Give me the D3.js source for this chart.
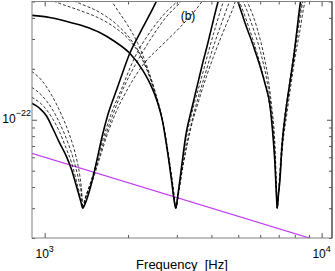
<!DOCTYPE html>
<html>
<head>
<meta charset="utf-8">
<script src="https://cdn.jsdelivr.net/npm/d3@7"></script>
<style>
body{margin:0;background:#fff}
svg text{font-family:"Liberation Sans",Arial,sans-serif;fill:#000}
</style>
</head>
<body>
<svg id="chart" width="335" height="271"></svg>
<script>
// solid curves, one per resonance [Hz, strain]
var solidA=[[898,1.251e-22],[959,1.169e-22],[1017,1.049e-22],[1069,8.91e-23],[1133,7.27e-23],[1201,6.01e-23],[1252,5.04e-23],[1305,4.00e-23],[1349,3.31e-23],[1372,3.0e-23],[1407,3.26e-23],[1454,3.84e-23],[1504,4.77e-23],[1541,5.69e-23],[1607,7.78e-23],[1689,1.063e-22],[1805,1.453e-22],[1914,1.907e-22],[2029,2.47e-22],[2205,3.24e-22],[2396,4.19e-22],[2604,5.50e-22]]
var solidB=[[898,4.14e-22],[1042,4.02e-22],[1201,3.81e-22],[1395,3.56e-22],[1580,3.28e-22],[1791,2.90e-22],[2029,2.47e-22],[2261,1.96e-22],[2436,1.555e-22],[2561,1.251e-22],[2670,9.66e-23],[2737,7.57e-23],[2806,5.77e-23],[2877,4.28e-23],[2926,3.44e-23],[2975,3.0e-23],[3024,3.54e-23],[3127,5.39e-23],[3233,8.10e-23],[3399,1.169e-22],[3572,1.641e-22],[3724,2.18e-22],[3882,2.83e-22],[4047,3.76e-22],[4220,4.93e-22],[4326,5.65e-22]]
var solidC=[[4862,5.65e-22],[4984,5.00e-22],[5283,3.76e-22],[5741,2.57e-22],[6239,1.641e-22],[6505,1.218e-22],[6669,8.10e-23],[6781,5.54e-23],[6866,3.59e-23],[6910,3.0e-23],[6982,3.59e-23],[7070,4.39e-23],[7188,6.88e-23],[7430,1.138e-22],[7681,1.664e-22],[7942,2.40e-22],[8142,3.37e-22],[8350,4.74e-22],[8490,5.65e-22]]

// dashed variants
var dashA1=[[898,1.932e-22],[975,1.711e-22],[1060,1.395e-22],[1152,1.063e-22],[1231,8.10e-23],[1294,6.17e-23],[1338,4.71e-23],[1361,3.73e-23],[1372,3.0e-23],[1395,3.35e-23],[1454,4.11e-23],[1529,5.39e-23],[1620,7.57e-23],[1731,1.063e-22],[1898,1.534e-22],[2115,2.34e-22],[2396,3.28e-22],[2715,4.25e-22],[3024,5.07e-22],[3127,5.43e-22]]
var dashA2=[[898,1.555e-22],[975,1.395e-22],[1060,1.169e-22],[1142,9.28e-23],[1211,7.37e-23],[1273,5.77e-23],[1327,4.40e-23],[1361,3.49e-23],[1372,3.0e-23],[1395,3.35e-23],[1466,4.22e-23],[1554,5.61e-23],[1648,7.78e-23],[1776,1.107e-22],[1946,1.598e-22],[2168,2.24e-22],[2436,3.07e-22],[2737,4.02e-22],[3127,5.07e-22],[3233,5.43e-22]]
var dashA3=[[898,1.358e-22],[975,1.234e-22],[1060,1.035e-22],[1133,8.44e-23],[1191,6.88e-23],[1252,5.54e-23],[1305,4.28e-23],[1349,3.44e-23],[1372,3.0e-23],[1407,3.44e-23],[1491,4.40e-23],[1580,5.93e-23],[1689,8.33e-23],[1836,1.169e-22],[2029,1.598e-22],[2299,2.18e-22],[2604,2.68e-22],[3075,3.51e-22],[3633,4.80e-22],[3787,5.28e-22]]
var dashB1=[[959,5.43e-22],[1133,4.87e-22],[1338,4.43e-22],[1580,3.97e-22],[1791,3.51e-22],[2029,2.94e-22],[2241,2.31e-22],[2416,1.711e-22],[2561,1.268e-22],[2670,9.66e-23],[2737,7.57e-23],[2806,5.77e-23],[2877,4.28e-23],[2926,3.44e-23],[2975,3.0e-23],[3024,3.54e-23],[3127,5.32e-23],[3260,8.10e-23],[3456,1.218e-22],[3663,1.711e-22],[3915,2.57e-22],[4185,3.76e-22],[4436,5.07e-22],[4510,5.43e-22]]
var dashB2=[[1133,5.43e-22],[1338,4.87e-22],[1580,4.31e-22],[1836,3.61e-22],[2080,2.87e-22],[2299,2.15e-22],[2457,1.598e-22],[2582,1.201e-22],[2692,9.03e-23],[2760,7.07e-23],[2830,5.39e-23],[2901,4.11e-23],[2975,3.0e-23],[3050,3.73e-23],[3179,5.77e-23],[3342,8.67e-23],[3543,1.268e-22],[3787,1.831e-22],[4047,2.64e-22],[4363,3.76e-22],[4663,5.07e-22],[4741,5.43e-22]]
var dashB3=[[1689,5.43e-22],[1836,4.43e-22],[1995,3.61e-22],[2168,2.83e-22],[2356,2.01e-22],[2498,1.493e-22],[2626,1.107e-22],[2715,8.44e-23],[2783,6.61e-23],[2853,5.04e-23],[2926,3.73e-23],[2975,3.0e-23],[3050,3.84e-23],[3206,6.09e-23],[3370,8.91e-23],[3603,1.303e-22],[3851,1.831e-22],[4150,2.57e-22],[4510,3.61e-22],[4862,4.93e-22],[4943,5.43e-22]]
var dashC1=[[4902,5.43e-22],[5109,4.74e-22],[5462,3.51e-22],[5837,2.50e-22],[6187,1.758e-22],[6450,1.303e-22],[6612,9.66e-23],[6724,7.07e-23],[6808,5.04e-23],[6866,3.58e-23],[6910,3.0e-23],[6982,3.58e-23],[7070,4.71e-23],[7188,6.79e-23],[7370,9.93e-23],[7619,1.453e-22],[7876,2.10e-22],[8142,3.03e-22],[8418,4.31e-22],[8630,5.43e-22]]
var dashC2=[[5067,5.43e-22],[5283,4.74e-22],[5646,3.51e-22],[6034,2.47e-22],[6343,1.711e-22],[6558,1.218e-22],[6696,8.67e-23],[6781,6.43e-23],[6837,4.52e-23],[6894,3.44e-23],[6910,3.0e-23],[6994,3.68e-23],[7098,4.90e-23],[7247,7.27e-23],[7494,1.092e-22],[7745,1.598e-22],[8008,2.31e-22],[8350,3.37e-22],[8630,4.67e-22],[8849,5.43e-22]]
var dashC3=[[5239,5.43e-22],[5462,4.74e-22],[5837,3.51e-22],[6187,2.40e-22],[6450,1.641e-22],[6612,1.169e-22],[6752,8.10e-23],[6820,5.77e-23],[6866,4.11e-23],[6910,3.0e-23],[6970,3.58e-23],[7041,4.52e-23],[7145,6.61e-23],[7307,9.66e-23],[7554,1.414e-22],[7810,2.07e-22],[8075,3.03e-22],[8350,4.31e-22],[8558,5.43e-22]]

// straight reference line
var magentaLine=[[898,6.34e-23],[10900,1.82e-23]]

var xMajor=[1e3,1e4], xExp=[3,4]
var xMinor=[2000,3000,4000,5000,6000,7000,8000,9000]
var yMajor=[1e-22], yExp=[-22]
var yMinor=[2e-23,3e-23,4e-23,5e-23,6e-23,7e-23,8e-23,9e-23,2e-22,3e-22,4e-22,5e-22]

var L=32,R=332,T=1.5,B=238
var svg=d3.select('#chart')
var x=d3.scaleLog().domain([900,10900]).range([L,R])
var y=d3.scaleLog().domain([2e-23,5e-22]).range([B,T])

svg.append('clipPath').attr('id','clip').append('rect')
   .attr('x',L).attr('y',T).attr('width',R-L).attr('height',B-T)

var line=d3.line().x(d=>x(d[0])).y(d=>y(d[1])).curve(d3.curveMonotoneX)
var g=svg.append('g').attr('clip-path','url(#clip)')

g.append('path').datum(magentaLine).attr('d',line)
 .attr('fill','none').attr('stroke','#c23cf2').attr('stroke-width',1.2)

;[dashA1,dashA2,dashA3,dashB1,dashB2,dashB3,dashC1,dashC2,dashC3].forEach(function(d){
  g.append('path').datum(d).attr('d',line)
   .attr('fill','none').attr('stroke','#000').attr('stroke-width',0.8)
   .attr('stroke-dasharray','3,2')
})
;[solidA,solidB,solidC].forEach(function(d){
  g.append('path').datum(d).attr('d',line)
   .attr('fill','none').attr('stroke','#000').attr('stroke-width',1.6)
})

// axes, ticks inside like matlab
function ax(gen,tr,vals,size){
  svg.append('g').attr('transform',tr)
   .call(gen.tickValues(vals).tickSize(size).tickFormat(''))
   .call(s=>s.select('.domain').remove())
   .selectAll('line').attr('stroke','#555')
}
ax(d3.axisBottom(x),'translate(0,'+B+')',xMajor,-5)
ax(d3.axisBottom(x),'translate(0,'+B+')',xMinor,-3)
ax(d3.axisTop(x),'translate(0,'+T+')',xMajor,-5)
ax(d3.axisTop(x),'translate(0,'+T+')',xMinor,-3)
ax(d3.axisLeft(y),'translate('+L+',0)',yMajor,-5)
ax(d3.axisLeft(y),'translate('+L+',0)',yMinor,-3)
ax(d3.axisRight(y),'translate('+R+',0)',yMajor,-5)
ax(d3.axisRight(y),'translate('+R+',0)',yMinor,-3)

svg.append('rect').attr('x',L).attr('y',T).attr('width',R-L).attr('height',B-T)
   .attr('fill','none').attr('stroke','#808080').attr('stroke-width',1)
svg.append('line').attr('x1',R).attr('x2',R).attr('y1',T).attr('y2',B)
   .attr('stroke','#333').attr('stroke-width',1)

xMajor.forEach(function(v,i){
  var t=svg.append('text').attr('x',x(v)).attr('y',258).attr('text-anchor','middle').attr('font-size',12)
  t.append('tspan').text('10')
  t.append('tspan').attr('dy',-6).attr('font-size',9).text(xExp[i])
})
yMajor.forEach(function(v,i){
  var t=svg.append('text').attr('x',L-1).attr('y',y(v)+3).attr('text-anchor','end').attr('font-size',12)
  t.append('tspan').text('10')
  t.append('tspan').attr('dy',-7).attr('font-size',9).text('\u2212'+(-yExp[i]))
})

svg.append('text').attr('x',(L+R)/2).attr('y',269).attr('text-anchor','middle')
   .attr('font-size',13).text('Frequency\u00a0\u00a0[Hz]')
svg.append('text').attr('x',188).attr('y',20).attr('text-anchor','middle')
   .attr('font-size',12).style('fill','#000').text('(b)')
</script>
</body>
</html>
